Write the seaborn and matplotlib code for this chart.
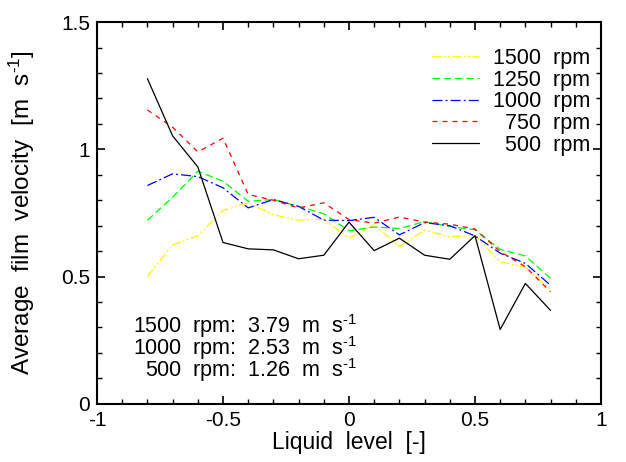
import numpy as np
import pandas as pd
import matplotlib
matplotlib.use("Agg")
import matplotlib.pyplot as plt
import seaborn as sns
from matplotlib.ticker import MultipleLocator

sns.set_theme(style="white")
plt.rcParams['font.family'] = ['Liberation Sans', 'DejaVu Sans']
plt.rcParams['mathtext.fontset'] = 'custom'
plt.rcParams['mathtext.rm'] = 'Liberation Sans'
plt.rcParams['mathtext.it'] = 'Liberation Sans'
plt.rcParams['text.color'] = 'black'
plt.rcParams['axes.labelcolor'] = 'black'

liquid_level = [-0.8, -0.7, -0.6, -0.5, -0.4, -0.3, -0.2, -0.1, 0.0,
                0.1, 0.2, 0.3, 0.4, 0.5, 0.6, 0.7, 0.8]

v1500 = [0.50, 0.625, 0.66, 0.76, 0.79, 0.743, 0.722, 0.726, 0.651,
         0.704, 0.618, 0.682, 0.657, 0.661, 0.558, 0.536, 0.449]
v1250 = [0.721, 0.812, 0.914, 0.875, 0.796, 0.803, 0.776, 0.747, 0.680,
         0.695, 0.689, 0.716, 0.697, 0.684, 0.607, 0.581, 0.493]
v1000 = [0.858, 0.904, 0.893, 0.849, 0.770, 0.803, 0.776, 0.722, 0.720,
         0.733, 0.664, 0.712, 0.700, 0.660, 0.592, 0.552, 0.466]
v750 = [1.155, 1.087, 0.99, 1.044, 0.823, 0.800, 0.770, 0.790, 0.724,
        0.710, 0.734, 0.714, 0.706, 0.687, 0.598, 0.539, 0.440]
v500 = [1.278, 1.053, 0.931, 0.634, 0.609, 0.605, 0.570, 0.584, 0.714,
        0.602, 0.651, 0.584, 0.568, 0.661, 0.292, 0.473, 0.367]

labels = ["1500  rpm", "1250  rpm", "1000  rpm", "  750  rpm", "  500  rpm"]
series = [v1500, v1250, v1000, v750, v500]
colors = ["#ffff00", "#00ff00", "#0000ff", "#ff0000", "#000000"]
dashes = [(7, 2, 1.5, 2, 1.5, 2), (6, 3), (8, 2.5, 1.5, 2.5), (4, 4), None]

annot_lines = [r"1500  rpm:  3.79  m  s$^{\text{-1}}$",
               r"1000  rpm:  2.53  m  s$^{\text{-1}}$",
               r"500  rpm:  1.26  m  s$^{\text{-1}}$"]

fig, ax = plt.subplots(figsize=(6.26, 4.62), dpi=100)
fig.subplots_adjust(left=0.155, right=0.96, top=0.952, bottom=0.126)

for vals, lab, col, d in zip(series, labels, colors, dashes):
    df = pd.DataFrame({"x": liquid_level, "y": vals})
    kw = {}
    if d is not None:
        kw["dashes"] = d
    sns.lineplot(data=df, x="x", y="y", color=col, label=lab, lw=0.9, ax=ax, **kw)

ax.set_xlim(-1, 1)
ax.set_ylim(0, 1.5)
ax.xaxis.set_minor_locator(MultipleLocator(0.1))
ax.yaxis.set_minor_locator(MultipleLocator(0.1))
ax.set_xticks([-1, -0.5, 0, 0.5, 1])
ax.set_xticklabels(["-1", "-0.5", "0", "0.5", "1"])
ax.set_yticks([0, 0.5, 1, 1.5])
ax.set_yticklabels(["0", "0.5", "1", "1.5"])
ax.tick_params(which="both", direction="in", top=True, right=True,
               bottom=True, left=True, labelsize=15, colors="black", pad=5)
ax.tick_params(which="major", length=6, width=1.2)
ax.tick_params(which="minor", length=3.5, width=1.0)
for s in ax.spines.values():
    s.set_color("black")
    s.set_linewidth(1.5)

ax.set_xlabel("Liquid  level  [-]", fontsize=16.5, color="black", labelpad=1)
ax.set_ylabel(r"Average  film  velocity  [m  s$^{\text{-1}}$]", fontsize=17.5,
              color="black", labelpad=17)

leg = ax.legend(loc="upper right", bbox_to_anchor=(0.996, 0.955), frameon=False,
                fontsize=15.5, handlelength=2.2, handletextpad=0.65,
                labelspacing=0.03, borderaxespad=0, labelcolor="black")

ax.text(0.516, 0.146, "\n".join(annot_lines), transform=ax.transAxes,
        ha="right", va="center", multialignment="right", linespacing=0.72,
        fontsize=15.5, color="black")

fig.savefig("out.png", dpi=100)
